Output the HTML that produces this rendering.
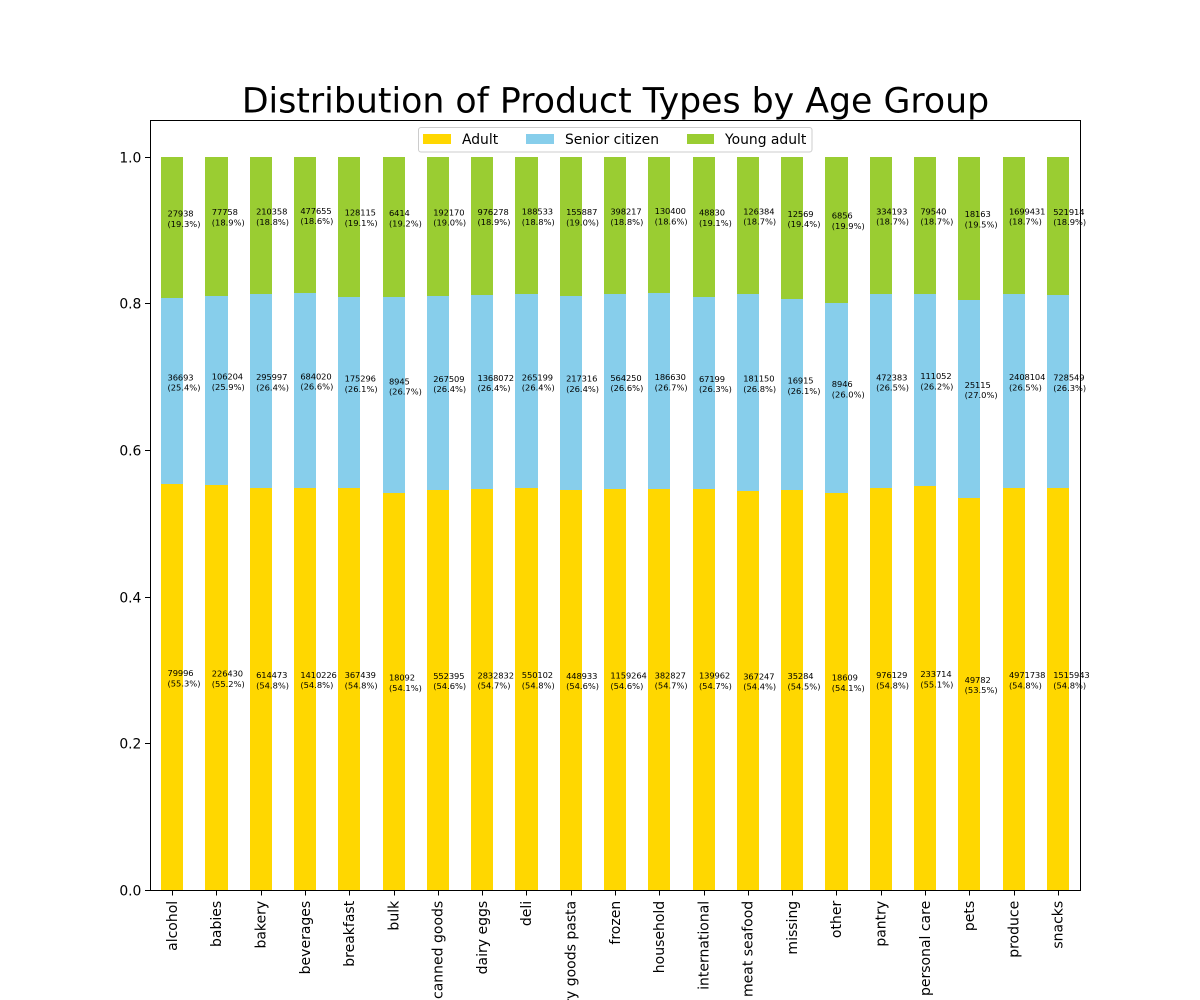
<!DOCTYPE html>
<html lang="en">
<head>
<meta charset="utf-8">
<title>Distribution of Product Types by Age Group</title>
<style>
html,body{margin:0;padding:0;background:#fff;width:1200px;height:1000px;overflow:hidden}
svg{display:block}
text{font-family:"DejaVu Sans","Liberation Sans",sans-serif;fill:#000}
</style>
</head>
<body>
<svg id="chart" xmlns="http://www.w3.org/2000/svg" width="1200" height="1000" viewBox="0 0 1200 1000">
  <rect x="0" y="0" width="1200" height="1000" fill="#fff"/>
  <text x="615.5" y="112.4" text-anchor="middle" font-size="34.72">Distribution of Product Types by Age Group</text>
  <g id="bars" shape-rendering="crispEdges"></g>
  <g id="labels"></g>
  <g id="y-axis"></g>
  <g id="x-axis"></g>
  <g shape-rendering="crispEdges" fill="#000">
    <rect x="150" y="120" width="1" height="771"/>
    <rect x="1080" y="120" width="1" height="771"/>
    <rect x="150" y="120" width="931" height="1"/>
    <rect x="150" y="890" width="931" height="1"/>
  </g>
  <g>
    <rect x="418.5" y="127.5" width="393.5" height="24.5" rx="2.5" ry="2.5" fill="#fff" fill-opacity="0.8" stroke="#ccc" stroke-width="1"/>
    <g>
      <rect x="423" y="134" width="28" height="10" fill="#FFD700"/>
      <text x="462" y="144" font-size="13.89">Adult</text>
    </g>
    <g>
      <rect x="526" y="134" width="28" height="10" fill="#87CEEB"/>
      <text x="565" y="144" font-size="13.89">Senior citizen</text>
    </g>
    <g>
      <rect x="687" y="134" width="27" height="10" fill="#9ACD32"/>
      <text x="725" y="144" font-size="13.89">Young adult</text>
    </g>
  </g>
</svg>
<script>
const categories = ["alcohol","babies","bakery","beverages","breakfast","bulk","canned goods","dairy eggs","deli","dry goods pasta","frozen","household","international","meat seafood","missing","other","pantry","personal care","pets","produce","snacks"];
const adultCounts = [79996,226430,614473,1410226,367439,18092,552395,2832832,550102,448933,1159264,382827,139962,367247,35284,18609,976129,233714,49782,4971738,1515943];
const seniorCounts = [36693,106204,295997,684020,175296,8945,267509,1368072,265199,217316,564250,186630,67199,181150,16915,8946,472383,111052,25115,2408104,728549];
const youngCounts = [27938,77758,210358,477655,128115,6414,192170,976278,188533,155887,398217,130400,48830,126384,12569,6856,334193,79540,18163,1699431,521914];
const yTicks = [0,0.2,0.4,0.6,0.8,1.0];
const yTickLabels = ["0.0","0.2","0.4","0.6","0.8","1.0"];

const NS = "http://www.w3.org/2000/svg";
const plot = {left:150, right:1080, top:120, bottom:890};
const yMax = 1.05;
function xScale(i){ return plot.left + (i + 0.5) * (plot.right - plot.left) / categories.length; }
function yScale(v){ return plot.bottom - v / yMax * (plot.bottom - plot.top); }
const unit = (plot.right - plot.left) / categories.length;

function slug(s){ return s.replace(/\s+/g, "-"); }
function make(tag, attrs){
  const el = document.createElementNS(NS, tag);
  for (const k in attrs) el.setAttribute(k, attrs[k]);
  return el;
}

const barsG = document.getElementById("bars");
const labelsG = document.getElementById("labels");
const xG = document.getElementById("x-axis");
const yG = document.getElementById("y-axis");

const seriesList = [
  {key:"adult", values:adultCounts, color:"#FFD700"},
  {key:"senior-citizen", values:seniorCounts, color:"#87CEEB"},
  {key:"young-adult", values:youngCounts, color:"#9ACD32"}
];

categories.forEach(function(cat, i){
  const total = adultCounts[i] + seniorCounts[i] + youngCounts[i];
  let cum = 0;
  const cx = xScale(i);
  const x0 = Math.round(cx - unit * 0.25);
  const x1 = Math.round(cx + unit * 0.25);
  seriesList.forEach(function(s){
    const v = s.values[i];
    const share = v / total;
    const yTop = Math.round(yScale(cum + share));
    const yBot = Math.round(yScale(cum));
    const bar = make("rect", {x:x0, y:yTop, width:x1 - x0, height:yBot - yTop, fill:s.color});
    
    
    barsG.appendChild(bar);

    const mid = yScale(cum + share / 2) - 0.7;
    const lx = cx - unit * 0.1 - 0.2;
    const label = make("text", {x:lx, y:mid - 10.3, "font-size":8.33});
    
    
    const l1 = make("tspan", {x:lx, y:mid - 10.3, "letter-spacing":-0.1});
    l1.textContent = String(v);
    const l2 = make("tspan", {x:lx, y:mid});
    l2.textContent = "(" + (share * 100).toFixed(1) + "%)";
    label.appendChild(l1);
    label.appendChild(l2);
    labelsG.appendChild(label);
    cum += share;
  });

  const tx = Math.round(cx) + 0.5;
  const tick = make("line", {x1:tx, x2:tx, y1:plot.bottom, y2:plot.bottom + 5.5, stroke:"#000", "stroke-width":1, "shape-rendering":"crispEdges"});
  
  
  xG.appendChild(tick);

  const tl = make("text", {transform:"translate(" + (cx + 4.8) + " 900.8) rotate(-90)", "text-anchor":"end", "font-size":14});
  
  
  tl.textContent = cat;
  xG.appendChild(tl);
});

yTicks.forEach(function(v, i){
  const py = Math.round(yScale(v));
  const ty = py + 0.5;
  const tick = make("line", {x1:plot.left - 5, x2:plot.left, y1:ty, y2:ty, stroke:"#000", "stroke-width":1, "shape-rendering":"crispEdges"});
  
  
  yG.appendChild(tick);

  const tl = make("text", {x:plot.left - 8.6, y:py + 5.3, "text-anchor":"end", "font-size":13.89});
  
  
  tl.textContent = yTickLabels[i];
  yG.appendChild(tl);
});
</script>
</body>
</html>
